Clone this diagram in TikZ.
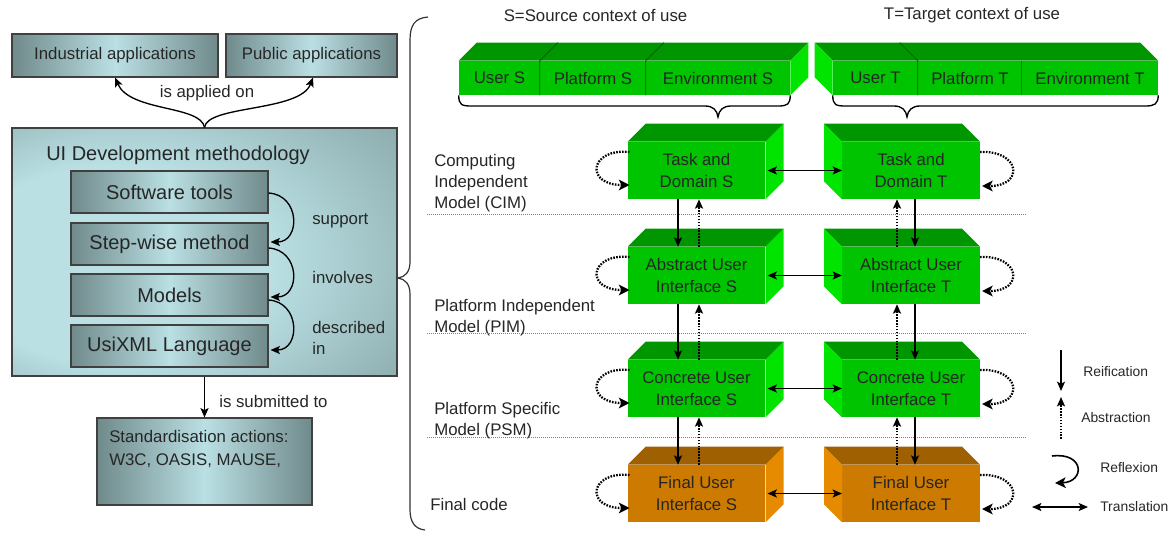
\documentclass[tikz,border=0pt]{standalone}
\usepackage{fontspec}
\setmainfont{Liberation Sans}
\usetikzlibrary{arrows.meta,calc}
\definecolor{gdark}{RGB}{112,138,139}
\definecolor{glight}{RGB}{186,224,228}
\definecolor{gmid}{RGB}{145,177,179}
\definecolor{gfront}{RGB}{0,196,0}
\definecolor{gtop}{RGB}{0,150,0}
\definecolor{gside}{RGB}{0,228,0}
\definecolor{gline}{RGB}{0,100,0}
\definecolor{ofront}{RGB}{204,122,0}
\definecolor{otop}{RGB}{158,96,0}
\definecolor{oside}{RGB}{230,138,0}
\pgfdeclareradialshading{bigsh}{\pgfpoint{-18bp}{-4bp}}{color(0bp)=(glight); color(20bp)=(glight); color(38bp)=(gmid); color(52bp)=(gdark); color(56bp)=(gdark)}
\newcommand\facesR[2]{%
  \fill[#2top] (#1.north west) -- ++(18,-18) -- ($(#1.north east)+(18,-18)$) -- (#1.north east) -- cycle;
  \fill[#2side] (#1.north east) -- ++(18,-18) -- ($(#1.south east)+(18,-18)$) -- (#1.south east) -- cycle;}
\newcommand\facesL[2]{%
  \fill[#2top] (#1.north west) -- ++(-18,-18) -- ($(#1.north east)+(-18,-18)$) -- (#1.north east) -- cycle;
  \fill[#2side] (#1.north west) -- ++(-18,-18) -- ($(#1.south west)+(-18,-18)$) -- (#1.south west) -- cycle;}
\begin{document}
\begin{tikzpicture}[x=0.75pt,y=-0.75pt,
  font=\fontsize{12.6}{16}\selectfont,
  tip/.style={-{Stealth[length=7pt,width=6pt,inset=1.5pt]}},
  gbox/.style={draw=black!75, line width=0.8pt, left color=gdark, right color=gdark, middle color=glight, inner sep=0pt, text=black!85},
  inbox/.style={gbox, minimum width=147.75pt, minimum height=31.5pt, font=\fontsize{15}{18}\selectfont},
  model/.style={minimum width=103.1pt, minimum height=42.75pt, inner sep=0pt, align=center, text=black!85, font=\fontsize{12.6}{16.5}\selectfont},
  ctx/.style={fill=gfront, minimum height=25.5pt, inner sep=0pt, text=black!85},
  lbl/.style={text=black!85, align=left, inner sep=0pt},
  solidarr/.style={tip, line width=1pt},
  dotarr/.style={tip, line width=1.7pt, dash pattern=on 1.2pt off 1pt},
  loopa/.style={-{Stealth[length=8pt,width=8pt,inset=2pt]}, line width=1.7pt, dash pattern=on 1.2pt off 1pt},
  sep/.style={gray, line width=0.5pt, densely dotted},
  legend/.style={lbl, font=\fontsize{10.4}{13}\selectfont}]
\useasboundingbox (0,0) rectangle (1173,533);

% ---------------- left panel ----------------
\node[gbox, minimum width=154.5pt, minimum height=32.25pt] (ind) at (115,55.5) {Industrial applications};
\node[gbox, minimum width=128.25pt, minimum height=32.25pt] (pub) at (311.5,55.5) {Public applications};
\node[draw=black!75, line width=0.8pt, shading=bigsh, minimum width=288.75pt, minimum height=186pt, inner sep=0pt] (big) at (204.5,252) {};
\node[lbl, font=\fontsize{15}{18}\selectfont] (title) at (178,155) {UI Development methodology};
\node[inbox] (sw) at (169.5,192) {Software tools};
\node[inbox] (step) at (169.5,244) {Step-wise method};
\node[inbox] (mod) at (169.5,295) {Models};
\node[inbox] (usi) at (169.5,346) {UsiXML Language};
\node[gbox, minimum width=161.25pt, minimum height=65.25pt] (std) at (204.5,461.5) {};
\node[lbl, anchor=west, font=\fontsize{12.6}{17.25}\selectfont] (stdtxt) at (109,448.5) {Standardisation actions:\\W3C, OASIS, MAUSE,};

\draw[tip, line width=1pt] (big.north) .. controls (201,105) and (130,112) .. (ind.south);
\draw[tip, line width=1pt] (big.north) .. controls (207,105) and (300,112) .. ($(pub.south)+(1.5,0)$);
\node[lbl] (appl) at (207,93) {is applied on};

\draw[tip, line width=1pt] ($(sw.east)+(0,1)$) .. controls +(32,2) and +(30,0) .. ($(step.east)+(2,-2)$);
\draw[tip, line width=1pt] ($(step.east)+(0,4)$) .. controls +(32,2) and +(30,0) .. ($(mod.east)+(2,2)$);
\draw[tip, line width=1pt] ($(mod.east)+(0,5)$) .. controls +(32,2) and +(30,0) .. ($(usi.east)+(2,4)$);
\node[lbl, anchor=west] (lsup) at (312,221) {support};
\node[lbl, anchor=west] (linv) at (312,277) {involves};
\node[lbl, anchor=west, font=\fontsize{12.6}{15.75}\selectfont] (ldes) at (312,337.5) {described\\in};

\draw[tip, line width=1pt] (big.south) -- (std.north);
\node[lbl, anchor=west] (lsub) at (219,401) {is submitted to};

% big brace
\draw[line width=0.9pt, black!80] (428,17) .. controls (415,18) and (410,25) .. (410,40) -- (410,262)
  .. controls (410,272) and (405,277) .. (398,278) .. controls (405,279) and (410,284) .. (410,294)
  -- (410,510) .. controls (410,522) and (415,529) .. (425,530);

% ---------------- context boxes ----------------
\node[lbl] (srcT) at (595.5,15) {S=Source context of use};
\node[lbl] (tgtT) at (972,15) {T=Target context of use};

\node[ctx, minimum width=60.75pt] (userS) at (499.5,78) {User S};
\node[ctx, minimum width=79.5pt] (platS) at (593,78) {Platform S};
\node[ctx, minimum width=108pt] (envS) at (718,78) {Environment S};
\fill[gtop] (userS.north west) -- ++(18,-18) -- ($(envS.north east)+(18,-18)$) -- (envS.north east) -- cycle;
\fill[gside] (envS.north east) -- ++(18,-18) -- ($(envS.south east)+(18,-18)$) -- (envS.south east) -- cycle;
\foreach \n in {platS,envS}{
  \draw[gline, line width=0.7pt] (\n.south west) -- (\n.north west) -- ++(18,-18);}

\node[ctx, minimum width=63.75pt] (userT) at (875.5,78) {User T};
\node[ctx, minimum width=78pt] (platT) at (970,78) {Platform T};
\node[ctx, minimum width=102pt] (envT) at (1090,78) {Environment T};
\fill[gtop] (userT.north west) -- ++(-18,-18) -- ($(envT.north east)+(-18,-18)$) -- (envT.north east) -- cycle;
\fill[gside] (userT.north west) -- ++(-18,-18) -- ($(userT.south west)+(-18,-18)$) -- (userT.south west) -- cycle;
\draw[gline, line width=0.7pt] (platT.south west) -- (platT.north west) -- ++(-18,-18);
\draw[gline!60!gfront, line width=0.5pt] (envT.south west) -- (envT.north west);

% small braces
\draw[line width=1pt] (userS.south west) .. controls +(0,10) and (462,106) .. (472,106) -- (705,106)
  .. controls (713,106) and (717,110) .. (718,117) .. controls (719,110) and (723,106) .. (731,106)
  -- (778,106) .. controls (788,106) and (790,104) .. (envS.south east);
\draw[line width=1pt] (userT.south west) .. controls +(0,10) and (836,106) .. (846,106) -- (894,106)
  .. controls (902,106) and (906,110) .. (907,117) .. controls (908,110) and (912,106) .. (920,106)
  -- (1145,106) .. controls (1155,106) and (1158,104) .. (envT.south east);

% ---------------- model boxes ----------------
\node[lbl, anchor=west, font=\fontsize{12.6}{15.75}\selectfont] (lcim) at (434,183) {Computing\\Independent\\Model (CIM)};
\node[lbl, anchor=west, font=\fontsize{12.6}{15.75}\selectfont] (lpim) at (434,317.5) {Platform Independent\\Model (PIM)};
\node[lbl, anchor=west, font=\fontsize{12.6}{15.75}\selectfont] (lpsm) at (434,420.5) {Platform Specific\\Model (PSM)};
\node[lbl, anchor=west] (lfc) at (430,504) {Final code};

\draw[sep] (427,214) -- (1027,214);
\draw[sep] (427,333) -- (1027,333);
\draw[sep] (427,437) -- (1027,437);

\node[model, fill=gfront] (tS) at (696.5,170.5) {Task and\\Domain S};
\node[model, fill=gfront] (tT) at (911,170.5) {Task and\\Domain T};
\node[model, fill=gfront] (aS) at (696.5,275.5) {Abstract User\\Interface S};
\node[model, fill=gfront] (aT) at (911,275.5) {Abstract User\\Interface T};
\node[model, fill=gfront] (cS) at (696.5,388.5) {Concrete User\\Interface S};
\node[model, fill=gfront] (cT) at (911,388.5) {Concrete User\\Interface T};
\node[model, fill=ofront] (fS) at (696.5,493.5) {Final User\\Interface S};
\node[model, fill=ofront] (fT) at (911,493.5) {Final User\\Interface T};
\foreach \n in {tS,aS,cS}{\facesR{\n}{g}}
\foreach \n in {tT,aT,cT}{\facesL{\n}{g}}
\facesR{fS}{o}
\facesL{fT}{o}

\foreach \a/\b in {tS/tT,aS/aT,cS/cT,fS/fT}{
  \draw[solidarr, {Stealth[length=7pt,width=6pt,inset=1.5pt]}-{Stealth[length=7pt,width=6pt,inset=1.5pt]}] ($(\a.east)+(2,0)$) -- (\b.west);
  \draw[loopa] ($(\a.west)+(2,-18.5)$) .. controls +(-40,-4) and +(-45,0) .. ($(\a.west)+(2,14.5)$);
  \draw[loopa] ($(\b.east)+(0,-18.5)$) .. controls +(40,-2) and +(43,0) .. ($(\b.east)+(2,15.5)$);
}
\foreach \u/\l in {tS/aS,aS/cS,cS/fS}{
  \draw[solidarr] ($(\u.south)+(-18.5,0)$) -- ($(\l.north)+(-18.5,0)$);
  \draw[dotarr] ($(\l.north)+(2.5,0)$) -- ($(\u.south)+(2.5,0)$);
}
\foreach \u/\l in {tT/aT,aT/cT,cT/fT}{
  \draw[solidarr] ($(\u.south)+(4,0)$) -- ($(\l.north)+(4,0)$);
  \draw[dotarr] ($(\l.north)+(-14,0)$) -- ($(\u.south)+(-14,0)$);
}

% ---------------- legend ----------------
\coordinate (re1) at (1061,350); \coordinate (re2) at (1061,391);
\coordinate (ab1) at (1061,439); \coordinate (ab2) at (1061,397);
\coordinate (rf1) at (1052,456); \coordinate (rf2) at (1055,483);
\coordinate (tr1) at (1032,507); \coordinate (tr2) at (1088,507);
\draw[solidarr] (re1) -- (re2);
\draw[dotarr] (ab1) -- (ab2);
\draw[-{Stealth[length=8pt,width=8pt,inset=2pt]}, line width=1.2pt] (rf1) .. controls (1085,452) and (1085,482) .. (rf2);
\draw[solidarr, {Stealth[length=7pt,width=6pt,inset=1.5pt]}-{Stealth[length=7pt,width=6pt,inset=1.5pt]}] (tr1) -- (tr2);
\node[legend, anchor=west] (lre) at (1083,372) {Reification};
\node[legend, anchor=west] (lab) at (1081,418) {Abstraction};
\node[legend, anchor=west] (lrf) at (1100,468) {Reflexion};
\node[legend, anchor=west] (ltr) at (1100,507) {Translation};
\end{tikzpicture}
\end{document}
